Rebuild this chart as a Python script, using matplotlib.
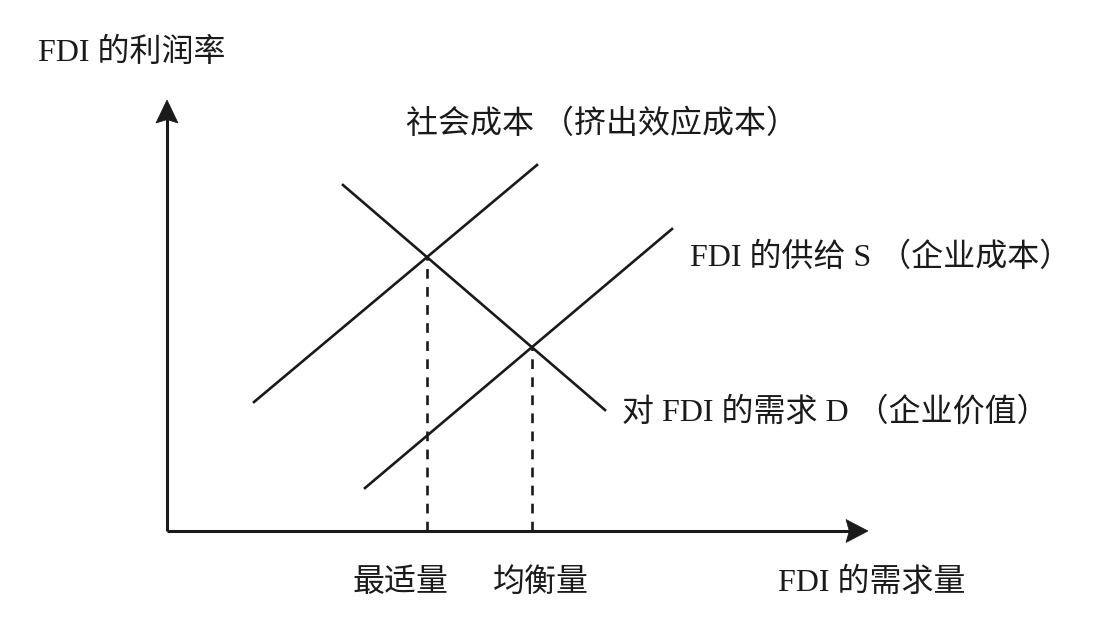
import matplotlib
matplotlib.use("Agg")
import matplotlib.pyplot as plt
import numpy as np

plt.rcParams['font.family'] = ['Liberation Serif', 'Noto Sans CJK SC', 'DejaVu Sans']
plt.rcParams['lines.scale_dashes'] = False

# ---- data (diagram units: origin at axes corner) ----
social_cost_x = [1.74, 7.40]
social_cost_y = [2.58, 7.32]
demand_x = [3.52, 8.76]
demand_y = [6.92, 2.42]
supply_x = [3.96, 10.10]
supply_y = [0.86, 6.04]
x_axis_end = 14.02
y_axis_end = 8.62

label_y_axis = "FDI 的利润率"
label_x_axis = "FDI 的需求量"
label_social = "社会成本 （挤出效应成本）"
label_supply = "FDI 的供给 S （企业成本）"
label_demand = "对 FDI 的需求 D （企业价值）"
label_opt = "最适量"
label_eq = "均衡量"


def line_params(xs, ys):
    m = (ys[1] - ys[0]) / (xs[1] - xs[0])
    return m, ys[0] - m * xs[0]


def intersect(a, b):
    m1, c1 = line_params(*a)
    m2, c2 = line_params(*b)
    x = (c2 - c1) / (m1 - m2)
    return x, m1 * x + c1


W, H = 1101, 625
fig = plt.figure(figsize=(W / 100, H / 100), dpi=100)
ox, oy = 167, 531
scale = 50.0
aw, ah = 733, 471
ax = fig.add_axes([ox / W, (H - oy) / H, aw / W, ah / H])
ax.set_xlim(0, aw / scale)
ax.set_ylim(0, ah / scale)
ax.axis('off')

col = '#1a1a1a'
# axes with arrows
ax.plot([0, x_axis_end - 0.3], [0, 0], color=col, lw=2.2, solid_capstyle='butt', clip_on=False)
ax.plot([0, 0], [0, y_axis_end - 0.3], color=col, lw=2.2, solid_capstyle='butt', clip_on=False)
ax.arrow(x_axis_end - 0.44, 0, 0.44, 0, head_width=0.46, head_length=0.44,
         length_includes_head=True, overhang=0.15, fc=col, ec=col, lw=0.5, clip_on=False)
ax.arrow(0, y_axis_end - 0.44, 0, 0.44, head_width=0.44, head_length=0.46,
         length_includes_head=True, overhang=0.15, fc=col, ec=col, lw=0.5, clip_on=False)

# curves
for xs, ys in [(social_cost_x, social_cost_y), (demand_x, demand_y), (supply_x, supply_y)]:
    ax.plot(xs, ys, color=col, lw=1.9, clip_on=False)

# intersections and dashed drops
opt = intersect((social_cost_x, social_cost_y), (demand_x, demand_y))
eq = intersect((supply_x, supply_y), (demand_x, demand_y))
for px, py in [opt, eq]:
    ax.plot([px, px], [0, py], color=col, lw=1.9, dashes=(7, 6), clip_on=False)

fs = 23
kw = dict(fontsize=fs, color='#1a1a1a', va='center', ha='left')


def ftext(x, y, s, **k):
    d = dict(kw)
    d.update(k)
    fig.text(x / W, 1 - y / H, s, **d)


ftext(38, 53, label_y_axis)
ftext(406, 125, label_social)
ftext(690, 258, label_supply)
ftext(622, 412, label_demand)
ftext(352, 583, label_opt)
ftext(493, 583, label_eq)
ftext(778, 583, label_x_axis)

fig.savefig('out.png', dpi=100, facecolor='white')
